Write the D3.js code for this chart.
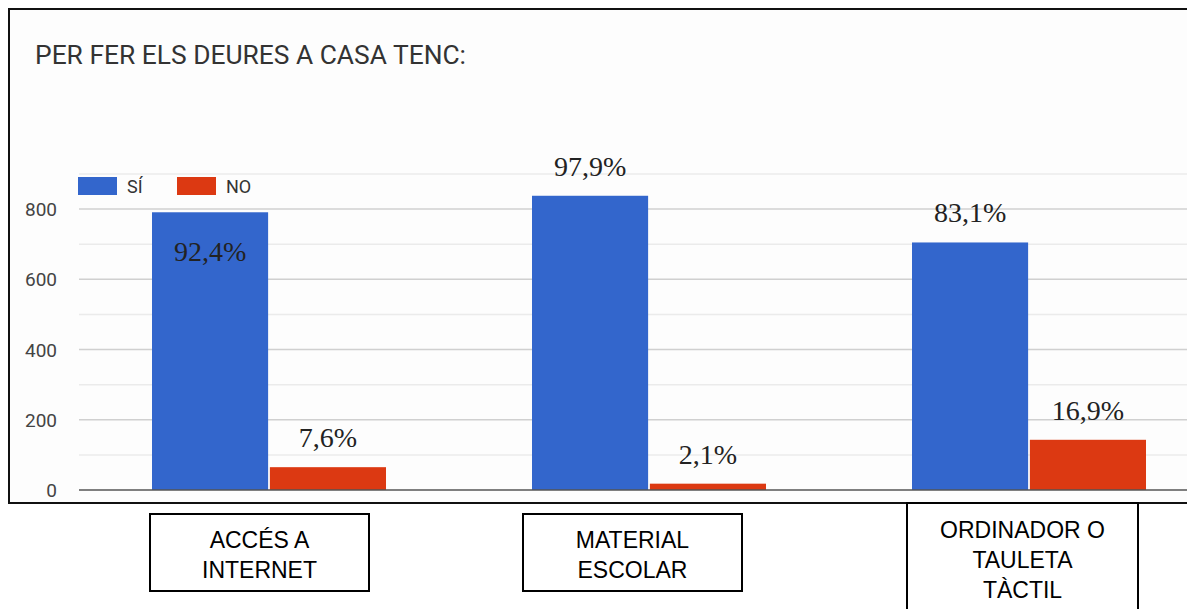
<!DOCTYPE html>
<html><head><meta charset="utf-8">
<script src="https://cdn.jsdelivr.net/npm/d3@7"></script>
<style>
html,body{margin:0;padding:0;background:#fff;}
svg{display:block;}
</style></head>
<body>
<svg id="c" width="1187" height="609"></svg>
<script>
const categories = ["ACCÉS A INTERNET", "MATERIAL ESCOLAR", "ORDINADOR O TAULETA TÀCTIL"];
const categoryLines = [["ACCÉS A", "INTERNET"], ["MATERIAL", "ESCOLAR"], ["ORDINADOR O", "TAULETA", "TÀCTIL"]];
const seriesNames = ["SÍ", "NO"];
const siValues = [791, 838, 705];
const noValues = [65, 18, 143];
const siLabels = ["92,4%", "97,9%", "83,1%"];
const noLabels = ["7,6%", "2,1%", "16,9%"];
const yTicks = [0, 200, 400, 600, 800];
const title = "PER FER ELS DEURES A CASA TENC:";

const colors = {"SÍ": "#3366cc", "NO": "#dc3912"};
const svg = d3.select("#c");

// outer frame
svg.append("rect").attr("x", 9).attr("y", 9).attr("width", 1200).attr("height", 494)
  .attr("fill", "#fdfdfd").attr("stroke", "#111").attr("stroke-width", 2);

svg.append("text").attr("x", 35).attr("y", 64).text(title)
  .attr("font-family", "Roboto, 'Open Sans', sans-serif").attr("font-size", 25)
  .attr("textLength", 431).attr("lengthAdjust", "spacingAndGlyphs")
  .attr("fill", "#333");

const y = d3.scaleLinear().domain([0, 900]).range([490, 174]);
const x0 = d3.scaleBand().domain(categories).range([79, 1219]).padding(0);
const half = 117;
const x1 = d3.scaleBand().domain(seriesNames)
  .range([x0.bandwidth() / 2 - half, x0.bandwidth() / 2 + half]).paddingInner(0.015).paddingOuter(0);

// gridlines
const g = svg.append("g");
g.selectAll("line.minor").data(d3.range(100, 901, 200)).join("line")
  .attr("x1", 79).attr("x2", 1187).attr("y1", d => y(d)).attr("y2", d => y(d))
  .attr("stroke", "#ebebeb").attr("stroke-width", 1.5);
g.selectAll("line.major").data(yTicks.slice(1)).join("line")
  .attr("x1", 79).attr("x2", 1187).attr("y1", d => y(d)).attr("y2", d => y(d))
  .attr("stroke", "#d0d0d0").attr("stroke-width", 1.5);

// y axis labels
const yAxis = d3.axisLeft(y).tickValues(yTicks).tickSize(0).tickPadding(0);
const ya = svg.append("g").attr("transform", "translate(57,0)").call(yAxis);
ya.select(".domain").remove();
ya.selectAll("text").attr("font-family", "Roboto, Arial, sans-serif").attr("font-size", 19)
  .attr("fill", "#444").attr("dy", "0.35em");

// bars
const data = categories.map((c, i) => ({cat: c, vals: [
  {s: "SÍ", v: siValues[i], label: siLabels[i]},
  {s: "NO", v: noValues[i], label: noLabels[i]}]}));

const groups = svg.append("g").selectAll("g").data(data).join("g")
  .attr("transform", d => `translate(${x0(d.cat)},0)`);
groups.selectAll("rect").data(d => d.vals).join("rect")
  .attr("x", d => x1(d.s)).attr("width", x1.bandwidth())
  .attr("y", d => y(d.v)).attr("height", d => y(0) - y(d.v))
  .attr("fill", d => colors[d.s]);

// value labels
groups.selectAll("text").data((d, i) => d.vals.map(v => ({...v, inside: i === 0 && v.s === "SÍ"}))).join("text")
  .attr("x", d => x1(d.s) + x1.bandwidth() / 2)
  .attr("y", d => d.inside ? y(d.v) + 49 : y(d.v) - 20)
  .attr("text-anchor", "middle")
  .attr("font-family", "'Liberation Serif', 'Times New Roman', serif").attr("font-size", 28)
  .attr("fill", "#222").text(d => d.label);

// baseline
svg.append("line").attr("x1", 79).attr("x2", 1187).attr("y1", y(0)).attr("y2", y(0))
  .attr("stroke", "#555").attr("stroke-width", 1.5);

// legend
const leg = svg.append("g");
seriesNames.forEach((s, i) => {
  const lx = 78 + i * 99;
  leg.append("rect").attr("x", lx).attr("y", 177).attr("width", 39).attr("height", 18).attr("fill", colors[s]);
  leg.append("text").attr("x", lx + 49).attr("y", 193).text(s)
    .attr("font-family", "Roboto, Arial, sans-serif").attr("font-size", 18).attr("fill", "#333");
});

// category label boxes (manually placed in original)
const boxes = [{x: 150, y: 514, w: 219, h: 77}, {x: 523, y: 514, w: 219, h: 77}, {x: 907, y: 503, w: 231, h: 110}];
const lb = svg.append("g");
categoryLines.forEach((lines, i) => {
  const b = boxes[i];
  lb.append("rect").attr("x", b.x).attr("y", b.y).attr("width", b.w).attr("height", b.h)
    .attr("fill", "#fff").attr("stroke", "#000").attr("stroke-width", 2);
  const t = lb.append("text").attr("text-anchor", "middle")
    .attr("font-family", "'Liberation Sans', Arial, sans-serif").attr("font-size", 23).attr("fill", "#000");
  const startY = i === 2 ? 538 : 548;
  lines.forEach((ln, j) => {
    t.append("tspan").attr("x", b.x + b.w / 2).attr("y", startY + j * 30).text(ln);
  });
});
</script>
</body></html>
